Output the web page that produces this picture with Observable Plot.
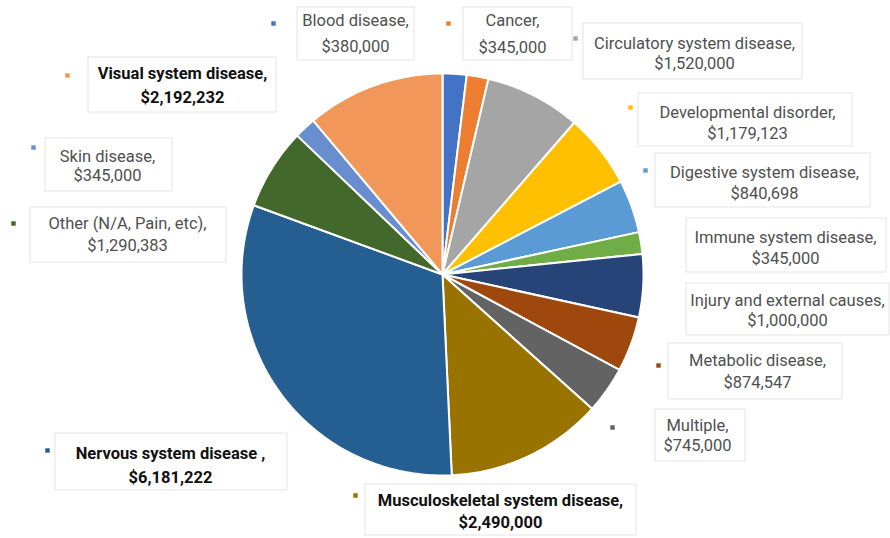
<!DOCTYPE html>
<html>
<head>
<meta charset="utf-8">
<script src="https://cdn.jsdelivr.net/npm/d3@7"></script>
<script src="https://cdn.jsdelivr.net/npm/@observablehq/plot@0.6"></script>
<style>
  html, body { margin: 0; padding: 0; background: #fff; }
  #chart { width: 890px; height: 538px; overflow: hidden; }
</style>
</head>
<body>
<div id="chart"></div>
<script>
// ---- data ----
const categories = [
  "Blood disease", "Cancer", "Circulatory system disease", "Developmental disorder",
  "Digestive system disease", "Immune system disease", "Injury and external causes",
  "Metabolic disease", "Multiple", "Musculoskeletal system disease",
  "Nervous system disease ", "Other (N/A, Pain, etc)", "Skin disease", "Visual system disease"
];
const values = [380000, 345000, 1520000, 1179123, 840698, 345000, 1000000,
                874547, 745000, 2490000, 6181222, 1290383, 345000, 2192232];
const valueLabels = ["$380,000", "$345,000", "$1,520,000", "$1,179,123", "$840,698", "$345,000",
                     "$1,000,000", "$874,547", "$745,000", "$2,490,000", "$6,181,222",
                     "$1,290,383", "$345,000", "$2,192,232"];
const boldLabels = ["Musculoskeletal system disease", "Nervous system disease ", "Visual system disease"];

// ---- styles ----
const colors = ["#4472C4", "#ED7D31", "#A5A5A5", "#FFC000", "#5B9BD5", "#70AD47", "#264478",
                "#9E480E", "#636363", "#997300", "#255E91", "#43682B", "#698ED0", "#F1975A"];

// ---- layout (pixels) ----
const W = 890, H = 538;
const CX = 442, CY = 274, R = 201;
const labelX     = [355, 512, 694, 747, 764, 785, 787, 757, 697, 500, 170, 127, 107, 182];
const nameY      = [ 20,  20,  43, 112, 172, 237, 300, 360, 425, 500, 453, 223, 156,  73];
const valueY     = [ 46,  47,  63, 133, 193, 258, 320, 382, 445, 522, 477, 245, 175,  97];
const boxX1      = [297, 463, 583, 638, 655, 686, 686, 668, 655, 365,  55,  30,  45,  88];
const boxY1      = [  7,   7,  23,  93, 153, 218, 283, 343, 409, 484, 433, 207, 138,  57];
const boxX2      = [414, 572, 802, 852, 870, 886, 889, 842, 745, 636, 287, 226, 172, 276];
const boxY2      = [ 60,  60,  79, 146, 207, 272, 335, 399, 461, 535, 490, 262, 191, 112];
const markerX    = [273, 448, 575, 630, 645, null, null, 658, 612, 355,  47,  13,  33,  67];
const markerY    = [ 23,  23,  38, 107, 170, null, null, 365, 427, 495, 450, 223, 147,  75];

// ---- slice geometry from values ----
const total = d3.sum(values);
let acc = 0;
const slicePts = [];
categories.forEach((c, i) => {
  const a0 = acc / total * 2 * Math.PI;
  acc += values[i];
  const a1 = acc / total * 2 * Math.PI;
  const n = Math.max(2, Math.ceil((a1 - a0) / (Math.PI / 180)));
  slicePts.push({name: c, x: CX, y: CY});
  for (let k = 0; k <= n; k++) {
    const a = a0 + (a1 - a0) * k / n;
    slicePts.push({name: c, x: CX + R * Math.sin(a), y: CY - R * Math.cos(a)});
  }
  slicePts.push({name: c, x: CX, y: CY});
});

const labels = categories.map((c, i) => ({
  name: c, text: c + ",", value: valueLabels[i],
  x: labelX[i], ny: nameY[i], vy: valueY[i],
  x1: boxX1[i], y1: boxY1[i], x2: boxX2[i], y2: boxY2[i],
  mx: markerX[i], my: markerY[i],
  bold: boldLabels.includes(c)
}));
const normal = labels.filter(d => !d.bold);
const bold = labels.filter(d => d.bold);
const markers = labels.filter(d => d.mx != null);

const FS = 16.5;
const chart = Plot.plot({
  width: W, height: H,
  margin: 0,
  style: {background: "#fff", fontFamily: "Roboto, sans-serif"},
  x: {domain: [0, W], range: [0, W], axis: null},
  y: {domain: [0, H], range: [0, H], axis: null},
  color: {type: "ordinal", domain: categories, range: colors},
  marks: [
    Plot.line(slicePts, {x: "x", y: "y", z: "name", fill: "name", stroke: "white",
                         strokeWidth: 2, strokeLinejoin: "round", curve: "linear"}),
    Plot.rect(labels, {x1: "x1", y1: "y1", x2: "x2", y2: "y2", fill: "white",
                       stroke: "#e4e4e4", strokeWidth: 1}),
    Plot.dot(markers, {x: "mx", y: "my", fill: "name", symbol: "square", r: 2.5}),
    Plot.text(normal, {x: "x", y: "ny", text: "text", fontSize: FS, fill: "#505050"}),
    Plot.text(normal, {x: "x", y: "vy", text: "value", fontSize: FS, fill: "#505050"}),
    Plot.text(bold, {x: "x", y: "ny", text: "text", fontSize: FS, fontWeight: "bold", fill: "#111"}),
    Plot.text(bold, {x: "x", y: "vy", text: "value", fontSize: FS, fontWeight: "bold", fill: "#111"})
  ]
});
document.getElementById("chart").appendChild(chart);
</script>
</body>
</html>
